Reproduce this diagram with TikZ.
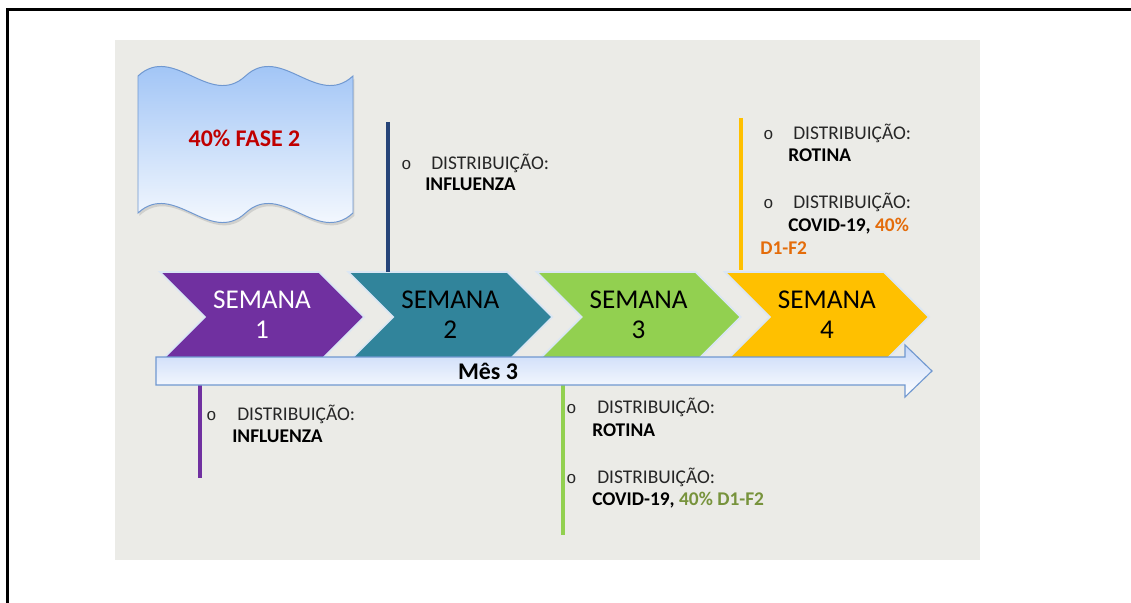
\documentclass[tikz,border=0pt]{standalone}
\usepackage{fontspec}
\setmainfont{Carlito}
\newfontfamily\bulletfont{Liberation Mono}
\usetikzlibrary{shadows}
\definecolor{week one}{RGB}{112,48,160}
\definecolor{week two}{RGB}{49,132,155}
\definecolor{week three}{RGB}{146,208,80}
\definecolor{week four}{RGB}{255,192,0}
\definecolor{navy mark}{RGB}{38,68,120}
\definecolor{panel area}{RGB}{235,235,231}
\definecolor{blue edge}{RGB}{112,152,208}
\definecolor{blue area}{RGB}{150,190,245}
\definecolor{arrow area}{RGB}{198,216,248}
\definecolor{chevron edge}{RGB}{218,230,244}
\definecolor{fase red}{RGB}{192,0,0}
\definecolor{dose orange}{RGB}{228,108,10}
\definecolor{dose green}{RGB}{119,147,60}
\definecolor{item text}{RGB}{38,38,38}
\def\wavepath{(138,76) .. controls (173.8,43) and (209.7,109) .. (245.5,76)
  .. controls (281.3,43) and (317.2,109) .. (353,76) -- (353,213)
  .. controls (317.2,246) and (281.3,180) .. (245.5,213)
  .. controls (209.7,246) and (173.8,180) .. (138,213) -- cycle}
\def\chevron#1{(#1,272) -- ++(159,0) -- ++(45,45) -- ++(-45,45) -- ++(-159,0) -- ++(45,-45) -- cycle}
\def\timeline{(156,357) -- (905,357) -- (905,345) -- (932,371) -- (905,397) -- (905,385) -- (156,385) -- cycle}
\tikzset{
  week/.style={align=center, inner sep=0pt, font=\fontsize{19.3}{21.3}\selectfont},
  entry/.style={anchor=base west, inner sep=0pt, text=item text, font=\fontsize{13.8}{16}\selectfont},
  entry bold/.style={entry, text=black, font=\fontsize{13.8}{16}\selectfont\bfseries},
  dot/.style={entry, font=\fontsize{12}{16}\selectfont\bulletfont},
  marker/.style={line width=2.4pt},
  chevron/.style={draw=chevron edge, line width=1.2pt, line join=miter}
}
\begin{document}
\begin{tikzpicture}[x=0.025cm, y=-0.025cm]
  \useasboundingbox (0,0) rectangle (1131,603);
  \draw[line width=2.35pt] (1131,9.5) -- (7.7,9.5) -- (7.7,603);
  \fill[panel area] (115,40) rectangle (980,560);

  % banner
  \path[draw=blue edge, line width=0.7pt, top color=blue area, bottom color=white,
    drop shadow={shadow xshift=1pt, shadow yshift=-2pt, opacity=0.25}] \wavepath;
  \node[anchor=base, font=\fontsize{17}{20}\selectfont\bfseries, text=fase red] (fase) at (244.5,147) {40\% FASE 2};

  % weeks
  \foreach \x/\c in {160/week one, 348.3/week two, 536.6/week three, 724.9/week four}
    \filldraw[chevron, fill=\c] \chevron{\x};
  \node[week, text=white] (w1) at (262,315) {SEMANA\\1};
  \node[week] (w2) at (450.3,315) {SEMANA\\2};
  \node[week] (w3) at (638.6,315) {SEMANA\\3};
  \node[week] (w4) at (826.9,315) {SEMANA\\4};

  % markers
  \coordinate (m1a) at (200,349);
  \coordinate (m1b) at (200,478);
  \coordinate (m2a) at (388,122);
  \coordinate (m2b) at (388,272);
  \coordinate (m3a) at (563,385);
  \coordinate (m3b) at (563,535);
  \coordinate (m4a) at (741,118);
  \coordinate (m4b) at (741,270);
  \draw[marker, week one] (m1a) -- (m1b);
  \draw[marker, navy mark] (m2a) -- (m2b);
  \draw[marker, week three] (m3a) -- (m3b);
  \draw[marker, week four] (m4a) -- (m4b);

  % month arrow
  \path[draw=blue edge, line width=0.8pt, top color=arrow area, bottom color=white] \timeline;
  \node[anchor=base, font=\fontsize{17}{20}\selectfont\bfseries] (mes) at (488,379) {Mês 3};

  % week 2
  \node[dot] (a0) at (401,170) {o};
  \node[entry] (a1) at (431,170) {DISTRIBUIÇÃO:};
  \node[entry bold] (a2) at (425,191) {INFLUENZA};

  % week 4
  \node[dot] (b0) at (763,140) {o};
  \node[entry] (b1) at (793,140) {DISTRIBUIÇÃO:};
  \node[entry bold] (b2) at (788,162) {ROTINA};
  \node[dot] (b3) at (763,209) {o};
  \node[entry] (b4) at (793,209) {DISTRIBUIÇÃO:};
  \node[entry bold] (b5) at (788,232) {COVID-19, \textcolor{dose orange}{40\%}};
  \node[entry bold, text=dose orange] (b6) at (760,255) {D1-F2};

  % week 1
  \node[dot] (c0) at (206,420) {o};
  \node[entry] (c1) at (237,420) {DISTRIBUIÇÃO:};
  \node[entry bold] (c2) at (232,442) {INFLUENZA};

  % week 3
  \node[dot] (d0) at (566,413) {o};
  \node[entry] (d1) at (597,413) {DISTRIBUIÇÃO:};
  \node[entry bold] (d2) at (592,436) {ROTINA};
  \node[dot] (d3) at (566,483) {o};
  \node[entry] (d4) at (597,483) {DISTRIBUIÇÃO:};
  \node[entry bold] (d5) at (592,505) {COVID-19, \textcolor{dose green}{40\% D1-F2}};
\end{tikzpicture}
\end{document}
